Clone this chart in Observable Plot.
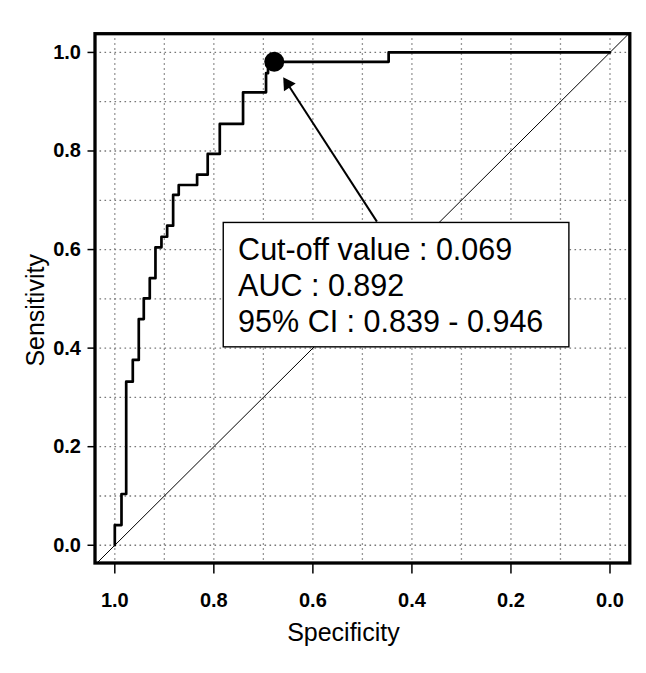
<!DOCTYPE html>
<html>
<head>
<meta charset="utf-8">
<script src="https://cdn.jsdelivr.net/npm/d3@7"></script>
<script src="https://cdn.jsdelivr.net/npm/@observablehq/plot@0.6"></script>
<style>
  html, body { margin: 0; padding: 0; background: #fff; }
  svg { display: block; }
</style>
</head>
<body>
<script>
// ROC curve step vertices (specificity, sensitivity)
const specificity = [1.0, 1.0, 0.9865, 0.977, 0.9637, 0.9516, 0.9415, 0.9294, 0.9179, 0.9058, 0.8943, 0.8822, 0.8709, 0.8338, 0.8124, 0.788, 0.741, 0.6946, 0.6906, 0.447, 0.0];
const sensitivity = [0.0, 0.041, 0.104, 0.332, 0.376, 0.459, 0.501, 0.542, 0.6045, 0.626, 0.6485, 0.711, 0.731, 0.752, 0.794, 0.855, 0.919, 0.958, 0.981, 1.0, 1.0];

// Cut-off point
const cutoffSpec = [0.678];
const cutoffSens = [0.981];

// Tick values and grid
const xTicks = [1.0, 0.8, 0.6, 0.4, 0.2, 0.0];
const yTicks = [0.0, 0.2, 0.4, 0.6, 0.8, 1.0];
const gridValues = [0, 0.1, 0.2, 0.3, 0.4, 0.5, 0.6, 0.7, 0.8, 0.9, 1.0];

// Chance diagonal (sens = 1 - spec), across the whole panel
const diagSpec = [1.036, -0.038];
const diagSens = [-0.036, 1.038];

// Annotation box and text
const boxSpec = [0.780, 0.082];
const boxSens = [0.4016, 0.654];
const annotationLines = ["Cut-off value : 0.069", "AUC : 0.892", "95% CI : 0.839 - 0.946"];
const annotationSpec = 0.751;
const annotationSens = [0.579, 0.505, 0.432];

// Arrow from box to cut-off point
const arrowTail = {spec: 0.4707, sens: 0.6566};
const arrowHead = {spec: 0.651, sens: 0.936};

const curve = specificity.map((s, i) => ({spec: s, sens: sensitivity[i]}));
const diag = diagSpec.map((s, i) => ({spec: s, sens: diagSens[i]}));
const cutoff = cutoffSpec.map((s, i) => ({spec: s, sens: cutoffSens[i]}));
const lines = annotationLines.map((t, i) => ({text: t, spec: annotationSpec, sens: annotationSens[i]}));
const fmt = d3.format(".1f");

const chart = Plot.plot({
  width: 646,
  height: 673,
  marginTop: 33.2,
  marginBottom: 110.5,
  marginLeft: 94.5,
  marginRight: 16.7,
  style: {fontFamily: "'Liberation Sans', Arial, sans-serif", background: "#fff", color: "#000"},
  x: {domain: [1.04, -0.04]},
  y: {domain: [-0.036, 1.038]},
  marks: [
    Plot.ruleX(gridValues, {stroke: "#777", strokeWidth: 1.3, strokeDasharray: "1.6,3.4"}),
    Plot.ruleY(gridValues, {stroke: "#777", strokeWidth: 1.3, strokeDasharray: "1.6,3.4"}),
    Plot.line(diag, {x: "spec", y: "sens", stroke: "#000", strokeWidth: 1}),
    Plot.line(curve, {x: "spec", y: "sens", curve: "step-after", stroke: "#000", strokeWidth: 2.7}),
    Plot.link([arrowTail], {x1: "spec", y1: "sens", x2: () => arrowHead.spec, y2: () => arrowHead.sens, stroke: "#000", strokeWidth: 2}),
    Plot.dot([arrowHead], {x: "spec", y: "sens", symbol: "triangle", r: 5.2, fill: "#000", stroke: "none", rotate: -33}),
    Plot.dot(cutoff, {x: "spec", y: "sens", r: 10, fill: "#000", stroke: "none"}),
    Plot.rect([{x1: boxSpec[0], x2: boxSpec[1], y1: boxSens[0], y2: boxSens[1]}], {x1: "x1", x2: "x2", y1: "y1", y2: "y2", fill: "#fff", stroke: "#000", strokeWidth: 1.4}),
    Plot.text(lines, {x: "spec", y: "sens", text: "text", textAnchor: "start", lineAnchor: "bottom", fontSize: 30.5, fill: "#000"}),
    Plot.frame({stroke: "#000", strokeWidth: 3.3}),
    Plot.axisX({ticks: xTicks, tickFormat: () => "", tickSize: 11, strokeWidth: 1.5, label: null}),
    Plot.axisY({ticks: yTicks, tickFormat: () => "", tickSize: 7, strokeWidth: 1.5, label: null}),
    Plot.text(xTicks, {x: d => d, text: d => fmt(d), frameAnchor: "bottom", lineAnchor: "middle", dy: 37.5, fontSize: 20, fontWeight: "bold", fill: "#000"}),
    Plot.text(yTicks, {y: d => d, text: d => fmt(d), frameAnchor: "left", textAnchor: "end", lineAnchor: "middle", dx: -14, fontSize: 20, fontWeight: "bold", fill: "#000"}),
    Plot.text(["Specificity"], {text: d => d, frameAnchor: "bottom", textAnchor: "middle", lineAnchor: "middle", dx: -19, dy: 70, fontSize: 25, fill: "#000"}),
    Plot.text(["Sensitivity"], {text: d => d, frameAnchor: "left", textAnchor: "middle", lineAnchor: "middle", dx: -59, dy: 12, rotate: -90, fontSize: 25, fill: "#000"})
  ]
});
document.body.appendChild(chart);
</script>
</body>
</html>
